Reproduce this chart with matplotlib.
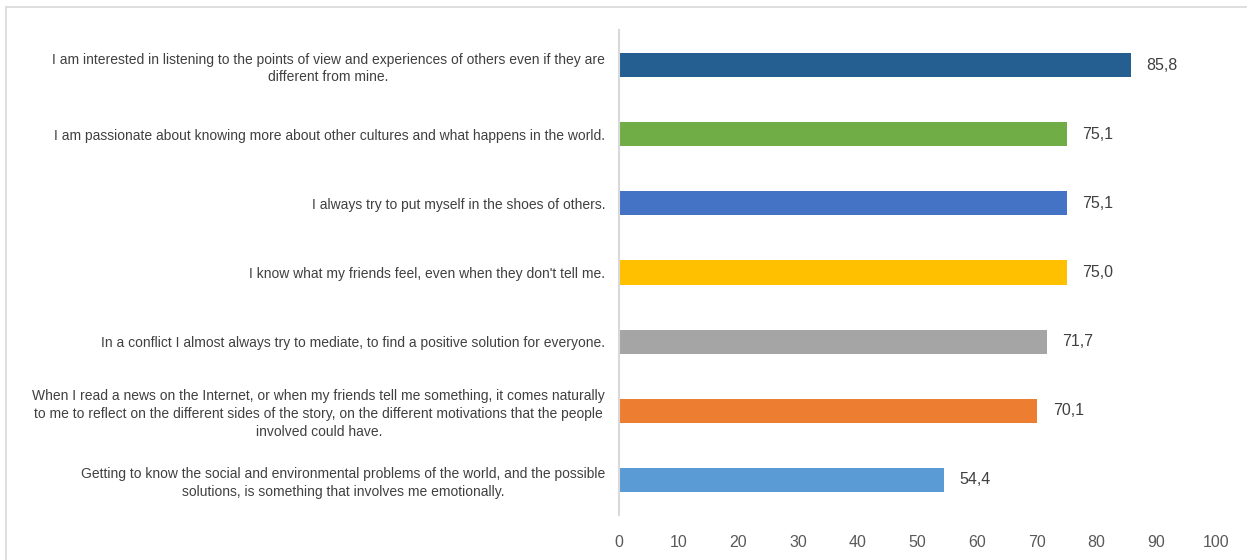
import matplotlib.pyplot as plt
from matplotlib.patches import Rectangle

statements = [
    "I am interested in listening to the points of view and experiences of others even if they are\ndifferent from mine.",
    "I am passionate about knowing more about other cultures and what happens in the world.",
    "I always try to put myself in the shoes of others.",
    "I know what my friends feel, even when they don't tell me.",
    "In a conflict I almost always try to mediate, to find a positive solution for everyone.",
    "When I read a news on the Internet, or when my friends tell me something, it comes naturally\nto me to reflect on the different sides of the story, on the different motivations that the people\ninvolved could have.",
    "Getting to know the social and environmental problems of the world, and the possible\nsolutions, is something that involves me emotionally.",
]
scores = [85.8, 75.1, 75.1, 75.0, 71.7, 70.1, 54.4]
colors = ["#255e91", "#70ad47", "#4472c4", "#ffc000", "#a5a5a5", "#ed7d31", "#5b9bd5"]
xticks = [0, 10, 20, 30, 40, 50, 60, 70, 80, 90, 100]

plt.rcParams['font.family'] = ['Liberation Sans', 'DejaVu Sans']

fig = plt.figure(figsize=(12.47, 5.6), dpi=100)
# light frame around the chart area
fig.patches.append(Rectangle((6 / 1247, -0.01), 1.02, 1 - 7 / 560 + 0.01, transform=fig.transFigure,
                             fill=False, edgecolor="#d9d9d9", linewidth=1.2))

ax = fig.add_axes([619 / 1247, 1 - 514.5 / 560, 597 / 1247, 484 / 560])
ypos = list(range(len(scores)))
ax.barh(ypos, scores, height=0.35, color=colors)
ax.set_ylim(len(scores) - 0.5, -0.5)
ax.set_xlim(0, 100)

for y, v in zip(ypos, scores):
    ax.annotate(f"{v:.1f}".replace(".", ","), (v, y), xytext=(11, 0), textcoords="offset points",
                va="center", ha="left", fontsize=11.5, color="#404040")

ax.set_yticks(ypos)
ax.set_yticklabels(statements, fontsize=10, color="#404040", multialignment="center", linespacing=1.35)
ax.set_xticks(xticks)
ax.set_xticklabels([str(t) for t in xticks], fontsize=11.5, color="#595959")
ax.tick_params(axis="both", length=0)
ax.tick_params(axis="y", pad=10)
ax.tick_params(axis="x", pad=15)

for side in ["top", "right", "bottom"]:
    ax.spines[side].set_visible(False)
ax.spines["left"].set_color("#d9d9d9")
ax.spines["left"].set_linewidth(1.5)

fig.savefig("out.png", dpi=100)
